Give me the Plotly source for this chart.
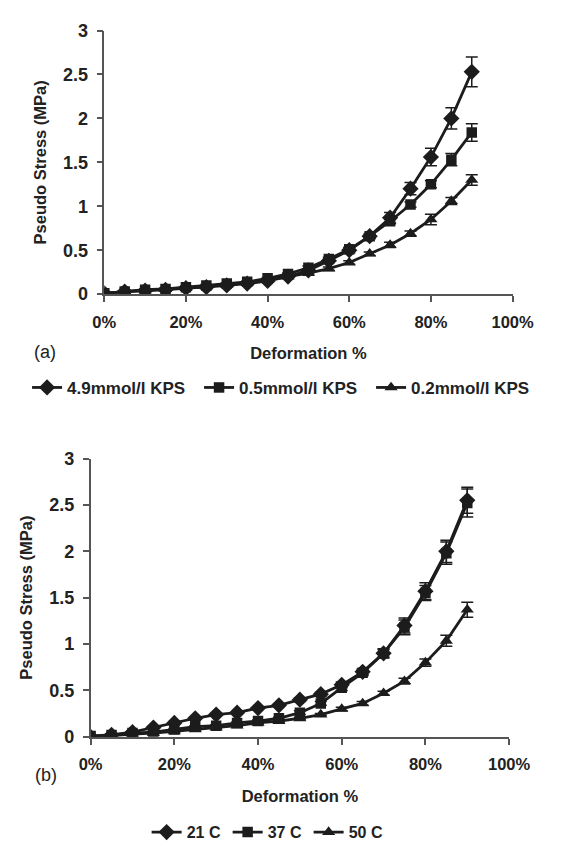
import plotly.graph_objects as go

# Deformation steps (%) shared by both panels
deformation = [0, 5, 10, 15, 20, 25, 30, 35, 40, 45, 50, 55, 60, 65, 70, 75, 80, 85, 90]

# Panel (a): initiator concentration series, pseudo stress in MPa
kps_49 = [0.01, 0.03, 0.04, 0.05, 0.07, 0.08, 0.10, 0.12, 0.15, 0.20, 0.27, 0.38, 0.50, 0.66, 0.87, 1.20, 1.56, 2.00, 2.53]
kps_49_err = [0.01, 0.01, 0.01, 0.01, 0.01, 0.01, 0.01, 0.01, 0.01, 0.02, 0.02, 0.02, 0.03, 0.03, 0.06, 0.07, 0.10, 0.12, 0.17]
kps_05 = [0.01, 0.03, 0.05, 0.06, 0.08, 0.10, 0.12, 0.14, 0.18, 0.23, 0.30, 0.40, 0.51, 0.66, 0.83, 1.02, 1.25, 1.53, 1.84]
kps_05_err = [0.01, 0.01, 0.01, 0.01, 0.01, 0.01, 0.01, 0.01, 0.01, 0.01, 0.02, 0.02, 0.02, 0.02, 0.03, 0.03, 0.04, 0.07, 0.10]
kps_02 = [0.01, 0.03, 0.04, 0.06, 0.07, 0.09, 0.11, 0.13, 0.16, 0.20, 0.24, 0.29, 0.36, 0.46, 0.56, 0.69, 0.85, 1.06, 1.30]
kps_02_err = [0.01, 0.01, 0.01, 0.01, 0.01, 0.01, 0.01, 0.01, 0.01, 0.01, 0.01, 0.02, 0.02, 0.02, 0.03, 0.03, 0.06, 0.04, 0.06]

# Panel (b): temperature series, pseudo stress in MPa
temp_21 = [0.00, 0.02, 0.05, 0.10, 0.15, 0.20, 0.24, 0.26, 0.31, 0.34, 0.40, 0.46, 0.56, 0.70, 0.90, 1.20, 1.57, 2.00, 2.55]
temp_21_err = [0.01, 0.01, 0.01, 0.01, 0.01, 0.01, 0.01, 0.01, 0.01, 0.01, 0.02, 0.02, 0.03, 0.03, 0.04, 0.08, 0.09, 0.12, 0.14]
temp_37 = [0.01, 0.02, 0.04, 0.05, 0.08, 0.11, 0.12, 0.15, 0.17, 0.20, 0.26, 0.36, 0.53, 0.69, 0.90, 1.18, 1.55, 1.98, 2.52]
temp_37_err = [0.01, 0.01, 0.01, 0.01, 0.01, 0.01, 0.01, 0.01, 0.01, 0.01, 0.02, 0.02, 0.03, 0.03, 0.05, 0.08, 0.08, 0.12, 0.15]
temp_50 = [0.00, 0.01, 0.03, 0.04, 0.06, 0.08, 0.10, 0.12, 0.15, 0.17, 0.20, 0.24, 0.30, 0.36, 0.47, 0.60, 0.80, 1.035, 1.37]
temp_50_err = [0.01, 0.01, 0.01, 0.01, 0.01, 0.01, 0.01, 0.01, 0.01, 0.01, 0.01, 0.01, 0.02, 0.02, 0.02, 0.03, 0.04, 0.06, 0.08]

labels_a = ["4.9mmol/l KPS", "0.5mmol/l KPS", "0.2mmol/l KPS"]
labels_b = ["21 C", "37 C", "50 C"]
symbols = ["diamond", "square", "triangle-up"]
sizes = [12.5, 10.5, 11.5]

INK = "#1c1c1c"
AXIS = "#555555"
TEXT = "#222222"
FONT = "Liberation Sans, Arial, sans-serif"

W, H = 564, 851

fig = go.Figure()

x_frac = [d / 100 for d in deformation]

for i, (ys, err) in enumerate([(kps_49, kps_49_err), (kps_05, kps_05_err), (kps_02, kps_02_err)]):
    fig.add_trace(go.Scatter(
        x=x_frac, y=ys, name=labels_a[i], mode="lines+markers",
        xaxis="x", yaxis="y", legend="legend",
        line=dict(color=INK, width=2.8),
        marker=dict(symbol=symbols[i], size=sizes[i], color=INK),
        error_y=dict(type="data", array=err, color=INK, thickness=1.5, width=6),
    ))

for i, (ys, err) in enumerate([(temp_21, temp_21_err), (temp_37, temp_37_err), (temp_50, temp_50_err)]):
    fig.add_trace(go.Scatter(
        x=x_frac, y=ys, name=labels_b[i], mode="lines+markers",
        xaxis="x2", yaxis="y2", legend="legend2",
        line=dict(color=INK, width=2.8),
        marker=dict(symbol=symbols[i], size=sizes[i], color=INK),
        error_y=dict(type="data", array=err, color=INK, thickness=1.5, width=6),
    ))


def px_x(p):
    return p / W


def px_y(p):
    return 1 - p / H


x_tick_font = dict(family=FONT, size=16.5, color=TEXT, weight="bold")
y_tick_font = dict(family=FONT, size=18, color=TEXT, weight="bold")
title_font = dict(family=FONT, size=16.5, color=TEXT, weight="bold")
legend_font = dict(family=FONT, size=17, color=TEXT, weight="bold")
legend2_font = dict(family=FONT, size=16, color=TEXT, weight="bold")

common_x = dict(
    range=[0, 1], tickvals=[0, 0.2, 0.4, 0.6, 0.8, 1.0], tickformat=".0%",
    showline=True, linecolor=AXIS, linewidth=1.5, ticks="outside",
    ticklen=6, tickwidth=1.5, tickcolor=AXIS, showgrid=False, zeroline=False,
    tickfont=x_tick_font, ticklabelstandoff=6,
    title=dict(text="Deformation %", font=title_font, standoff=18),
)
common_y = dict(
    range=[0, 3], dtick=0.5, showline=True, linecolor=AXIS, linewidth=1.5,
    ticks="outside", ticklen=6, tickwidth=1.5, tickcolor=AXIS,
    showgrid=False, zeroline=False, tickfont=y_tick_font, ticklabelstandoff=5,
    title=dict(text="Pseudo Stress (MPa)", font=title_font, standoff=12),
)

fig.update_layout(
    width=W, height=H,
    margin=dict(l=0, r=0, t=0, b=0),
    paper_bgcolor="white", plot_bgcolor="white",
    font=dict(family=FONT, color=TEXT),
    xaxis=dict(domain=[px_x(98), px_x(531.7)], anchor="y", **common_x),
    yaxis=dict(domain=[px_y(291), px_y(21)], anchor="x", **common_y),
    xaxis2=dict(domain=[px_x(83.5), px_x(528)], anchor="y2", **common_x),
    yaxis2=dict(domain=[px_y(744.3), px_y(459.3)], anchor="x2", **common_y),
    legend=dict(
        orientation="h", x=px_x(16), xanchor="left", y=px_y(387), yanchor="middle",
        font=legend_font, bgcolor="rgba(0,0,0,0)",
        entrywidth=127, entrywidthmode="pixels",
    ),
    legend2=dict(
        orientation="h", x=px_x(143), xanchor="left", y=px_y(842), yanchor="middle",
        font=legend2_font, bgcolor="rgba(0,0,0,0)",
        entrywidth=36, entrywidthmode="pixels",
    ),
    annotations=[
        dict(text="(a)", x=px_x(21), y=px_y(350), xref="paper", yref="paper",
             showarrow=False, font=dict(family=FONT, size=18, color=TEXT)),
        dict(text="(b)", x=px_x(22), y=px_y(796), xref="paper", yref="paper",
             showarrow=False, font=dict(family=FONT, size=18, color=TEXT)),
    ],
)

fig.write_html("out.html")
